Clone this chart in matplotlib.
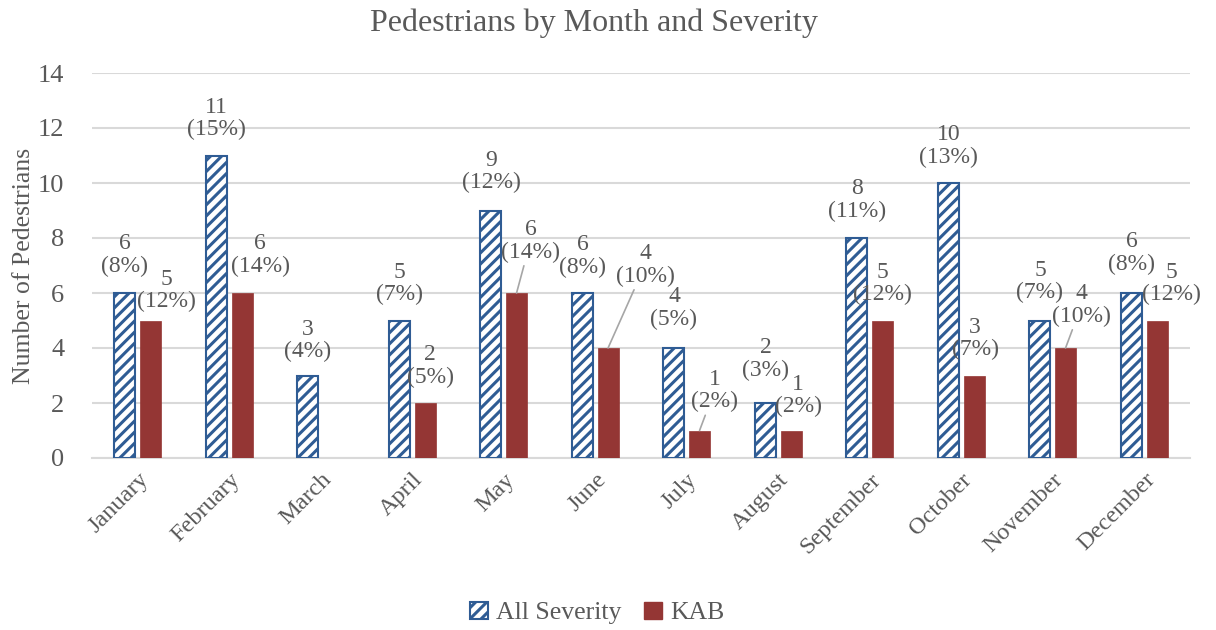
import matplotlib
matplotlib.use("Agg")
import matplotlib.pyplot as plt
import numpy as np
from matplotlib.patches import Patch

months = ["January", "February", "March", "April", "May", "June", "July",
          "August", "September", "October", "November", "December"]
all_sev = [6, 11, 3, 5, 9, 6, 4, 2, 8, 10, 5, 6]
all_pct = [8, 15, 4, 7, 12, 8, 5, 3, 11, 13, 7, 8]
kab = [5, 6, 0, 2, 6, 4, 1, 1, 5, 3, 4, 5]
kab_pct = [12, 14, None, 5, 14, 10, 2, 2, 12, 7, 10, 12]
yticks = [0, 2, 4, 6, 8, 10, 12, 14]

# label placement (pixels): horizontal shift, gap above bar, leader line
kab_dx = [16, 18, 0, 5, 14, 37, 15, 7, 0, 1, 16, 14]
kab_gap = [8, 16, 0, 15, 30, 61, 18, 13, 15, 15, 21, 15]
kab_leader = [False, False, False, False, True, True, True, False, False, False, True, False]
all_gap = [16, 15, 13, 15, 17, 15, 18, 22, 16, 15, 17, 18]

BLUE = "#2F5C94"
RED = "#943634"
TXT = "#595959"
GRID = "#D9D9D9"

plt.rcParams["font.family"] = ["Liberation Serif", "DejaVu Serif"]
plt.rcParams["hatch.linewidth"] = 2.2
plt.rcParams["hatch.color"] = BLUE

fig = plt.figure(figsize=(12.16, 6.30), dpi=100)
ax = fig.add_axes([92 / 1216, 1 - 458 / 630, (1190 - 92) / 1216, (458 - 73) / 630])

x = np.arange(len(months))
w = 0.23
off = 0.14
b1 = ax.bar(x - off, all_sev, w, facecolor="white", edgecolor=BLUE, hatch="///",
            linewidth=1.5, zorder=3)
b2 = ax.bar(x + off, kab, w, color=RED, edgecolor=RED, linewidth=0.5, zorder=3)

ax.set_ylim(0, 14)
ax.set_xlim(-0.5, len(months) - 0.5)
ax.set_yticks(yticks)
ax.set_xticks(x)
ax.set_xticklabels(months, rotation=45, ha="right", rotation_mode="anchor")
ax.tick_params(axis="both", length=0, colors=TXT)
ax.tick_params(axis="x", pad=8, labelsize=17.5)
ax.tick_params(axis="y", pad=20, labelsize=19)
for t in ax.get_yticklabels():
    t.set_horizontalalignment("right")
ax.yaxis.grid(True, color=GRID, linewidth=1.5, zorder=0)
ax.set_axisbelow(True)
for s in ["top", "right", "left"]:
    ax.spines[s].set_visible(False)
ax.spines["bottom"].set_color(GRID)
ax.spines["bottom"].set_linewidth(1.5)

ax.set_ylabel("Number of Pedestrians", fontsize=18.5, color=TXT, labelpad=2)
fig.text(594 / 1216, 1 - 23 / 630, "Pedestrians by Month and Severity",
         fontsize=23, color=TXT, ha="center", va="center")

for i in range(len(months)):
    ax.annotate(f"{all_sev[i]}\n({all_pct[i]}%)", xy=(x[i] - off, all_sev[i]),
                xytext=(0, all_gap[i]), textcoords="offset pixels",
                ha="center", va="bottom", fontsize=17, color=TXT, linespacing=1.1)
    if kab_pct[i] is None:
        continue
    ap = None
    if kab_leader[i]:
        ap = dict(arrowstyle="-", color="#A6A6A6", lw=1.2, shrinkA=0, shrinkB=0)
    ax.annotate(f"{kab[i]}\n({kab_pct[i]}%)", xy=(x[i] + off, kab[i]),
                xytext=(kab_dx[i], kab_gap[i]), textcoords="offset pixels",
                ha="center", va="bottom", fontsize=17, color=TXT, linespacing=1.1,
                arrowprops=ap)

handles = [Patch(facecolor="white", edgecolor=BLUE, hatch="///", linewidth=1.5),
           Patch(facecolor=RED, edgecolor=RED)]
fig.legend(handles, ["All Severity", "KAB"], loc="center",
           bbox_to_anchor=(597 / 1216, 1 - 613 / 630), ncol=2, frameon=False,
           fontsize=18.5, labelcolor=TXT, handlelength=0.7, handleheight=0.7,
           handletextpad=0.3, columnspacing=0.9)

fig.savefig("out.png", dpi=100)
